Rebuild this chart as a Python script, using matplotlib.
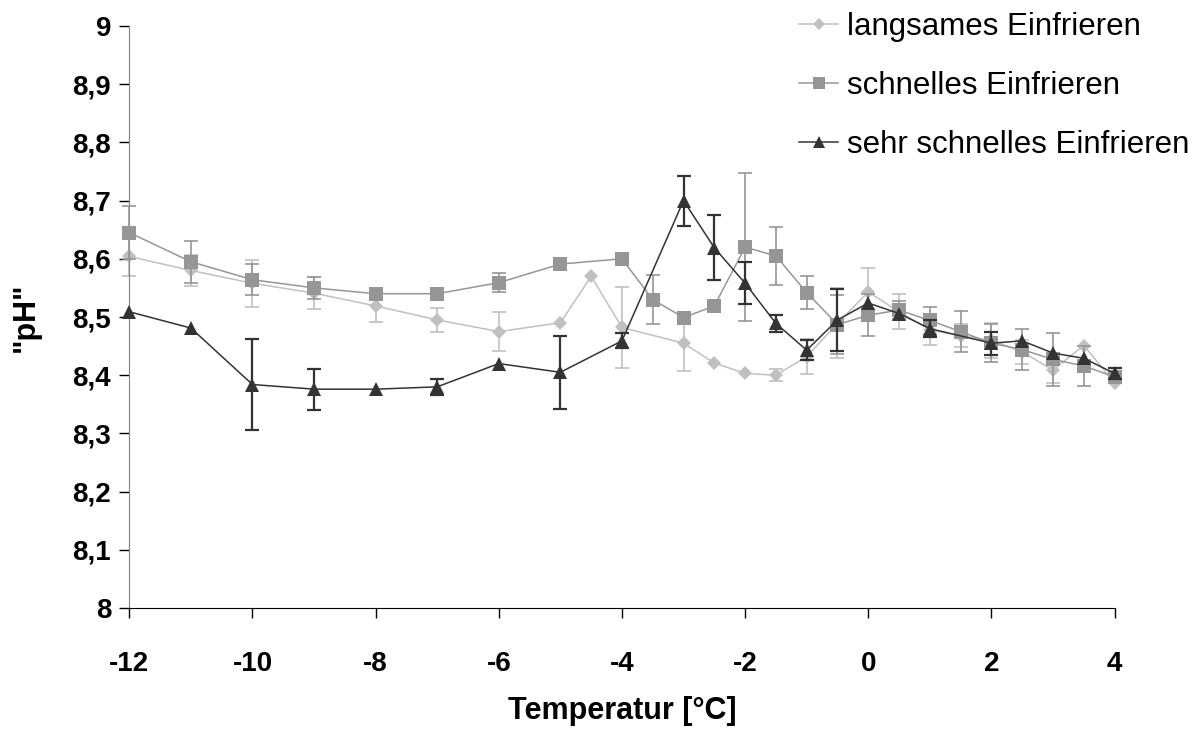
import numpy as np
import matplotlib
matplotlib.use("Agg")
import matplotlib.pyplot as plt

# data (None = error bar hidden behind the marker)
x_langsam = [-12, -11, -10, -9, -8, -7, -6, -5, -4.5, -4, -3, -2.5, -2, -1.5, -1,
             -0.5, 0, 0.5, 1, 1.5, 2, 2.5, 3, 3.5, 4]
y_langsam = [8.604, 8.580, 8.558, 8.541, 8.519, 8.495, 8.475, 8.490, 8.570, 8.482,
             8.455, 8.421, 8.403, 8.400, 8.432, 8.489, 8.543, 8.509, 8.478, 8.468,
             8.460, 8.440, 8.409, 8.451, 8.387]
e_langsam = [0.033, 0.027, 0.040, 0.028, 0.027, 0.021, 0.034, None, None, 0.070,
             0.047, None, None, 0.010, 0.030, 0.060, 0.041, 0.030, 0.026, 0.020,
             0.030, 0.020, 0.022, None, None]

x_schnell = [-12, -11, -10, -9, -8, -7, -6, -5, -4, -3.5, -3, -2.5, -2, -1.5, -1,
             -0.5, 0, 0.5, 1, 1.5, 2, 2.5, 3, 3.5, 4]
y_schnell = [8.645, 8.595, 8.564, 8.550, 8.540, 8.540, 8.559, 8.591, 8.600, 8.530,
             8.499, 8.519, 8.620, 8.605, 8.542, 8.487, 8.503, 8.512, 8.494, 8.475,
             8.455, 8.444, 8.427, 8.416, 8.397]
e_schnell = [0.046, 0.036, 0.027, 0.019, None, None, 0.016, None, None, 0.042,
             None, None, 0.127, 0.050, 0.028, 0.050, 0.036, 0.015, 0.023, 0.035,
             0.033, 0.035, 0.045, 0.035, None]

x_sehr = [-12, -11, -10, -9, -8, -7, -6, -5, -4, -3, -2.5, -2, -1.5, -1,
          -0.5, 0, 0.5, 1, 2, 2.5, 3, 3.5, 4]
y_sehr = [8.509, 8.481, 8.384, 8.376, 8.376, 8.380, 8.420, 8.405, 8.459, 8.700,
          8.619, 8.558, 8.489, 8.443, 8.495, 8.524, 8.506, 8.480, 8.455, 8.459,
          8.438, 8.429, 8.403]
e_sehr = [None, None, 0.078, 0.035, None, 0.014, None, 0.063, 0.013, 0.043,
          0.056, 0.036, 0.014, 0.017, 0.053, None, None, 0.014, 0.020, None,
          None, None, 0.010]

labels = ["langsames Einfrieren", "schnelles Einfrieren", "sehr schnelles Einfrieren"]
x_ticks = [-12, -10, -8, -6, -4, -2, 0, 2, 4]
y_ticks = [8.0, 8.1, 8.2, 8.3, 8.4, 8.5, 8.6, 8.7, 8.8, 8.9, 9.0]
y_tick_labels = ["8", "8,1", "8,2", "8,3", "8,4", "8,5", "8,6", "8,7", "8,8", "8,9", "9"]

plt.rcParams["font.family"] = ["Liberation Sans", "DejaVu Sans"]

fig = plt.figure(figsize=(12, 7.29), dpi=100)
ax = fig.add_axes([129.3 / 1200, 1 - 608 / 729, 985.3 / 1200, 582 / 729])

series = [
    (x_langsam, y_langsam, e_langsam, "#c0c0c0", "D", 6.8, 1.2),
    (x_schnell, y_schnell, e_schnell, "#969696", "s", 9.6, 1.2),
    (x_sehr, y_sehr, e_sehr, "#333333", "^", 10.0, 1.6),
]

handles = []
for i, ((xs, ys, es, col, mk, ms, ew), lab) in enumerate(zip(series, labels)):
    err = np.array([np.nan if e is None else e for e in es], dtype=float)
    cont = ax.errorbar(xs, ys, yerr=err, color=col, ecolor=col, marker=mk,
                       markersize=ms, linewidth=1.1,
                       elinewidth=ew, capsize=5, capthick=ew,
                       label=lab)
    line, caps, bars = cont.lines
    line.set_markeredgewidth(0)
    line.set_clip_on(False)
    line.set_zorder(2.5 + i)
    for art in list(caps) + list(bars):
        art.set_clip_on(False)
        art.set_zorder(2 + i)
    handles.append(line)

ax.set_xlim(-12, 4)
ax.set_ylim(8, 9)
ax.set_xticks(x_ticks)
ax.set_xticklabels([str(t) for t in x_ticks])
ax.set_yticks(y_ticks)
ax.set_yticklabels(y_tick_labels)

for lbl in ax.get_xticklabels() + ax.get_yticklabels():
    lbl.set_fontweight("bold")
ax.tick_params(axis="x", labelsize=20, length=7, width=1, direction="out", pad=24)
ax.tick_params(axis="y", labelsize=20, length=7, width=1, direction="out", pad=6)

ax.spines["top"].set_visible(False)
ax.spines["right"].set_visible(False)
ax.spines["left"].set_color("#808080")
ax.spines["bottom"].set_color("#000000")

ax.set_xlabel("Temperatur [°C]", fontsize=22, fontweight="bold")
ax.set_ylabel('"pH"', fontsize=22, fontweight="bold")
ax.xaxis.set_label_coords(0.5, -0.152)
ax.yaxis.set_label_coords(-0.09, 0.5)

fig.legend(handles=handles, labels=labels, loc="upper left",
           bbox_to_anchor=(799 / 1200, 1 - 12 / 729), frameon=False,
           fontsize=22.5, handlelength=1.25, handletextpad=0.3,
           labelspacing=0.93, borderpad=0, borderaxespad=0, numpoints=1,
           markerscale=0.85)

fig.savefig("out.png", dpi=100)
